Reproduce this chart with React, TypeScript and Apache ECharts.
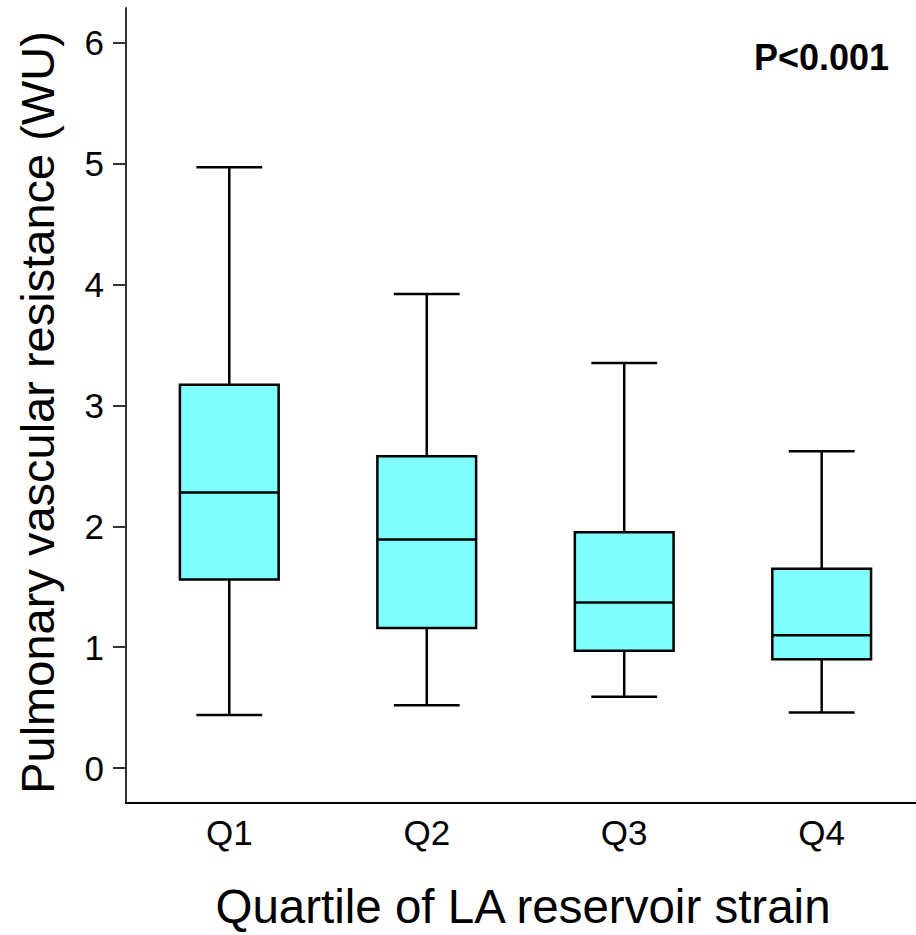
import React, { useEffect, useRef } from "react";
import * as echarts from "echarts";

const categories = ["Q1", "Q2", "Q3", "Q4"];
const lowWhisker = [0.44, 0.52, 0.59, 0.46];
const lowerQuartile = [1.56, 1.16, 0.97, 0.9];
const median = [2.28, 1.89, 1.37, 1.1];
const upperQuartile = [3.17, 2.58, 1.95, 1.65];
const highWhisker = [4.97, 3.92, 3.35, 2.62];
const yTicks = [0, 1, 2, 3, 4, 5, 6];
const xTicks = [1, 2, 3, 4];

const FONT = "'Liberation Sans', Arial, Helvetica, sans-serif";

export default function App() {
  const ref = useRef<HTMLDivElement>(null);

  useEffect(() => {
    if (!ref.current) return;
    const chart = echarts.init(ref.current, null, { renderer: "svg" });

    const data = categories.map((_, i) => [
      i + 1,
      lowWhisker[i],
      lowerQuartile[i],
      median[i],
      upperQuartile[i],
      highWhisker[i],
    ]);

    const lineStyle = { stroke: "#000", lineWidth: 2.5 };

    chart.setOption({
      animation: false,
      grid: { left: 126, right: 0, top: 8, bottom: 128.3, containLabel: false },
      xAxis: {
        type: "value",
        min: 0.477,
        max: 4.4776,
        name: "Quartile of LA reservoir strain",
        nameLocation: "middle",
        nameGap: 79,
        nameTextStyle: { fontSize: 47.5, fontFamily: FONT, color: "#000", padding: [0, 0, 0, 4] },
        axisLine: { show: true, onZero: false, lineStyle: { color: "#000", width: 2 } },
        axisTick: { show: false },
        splitLine: { show: false },
        axisLabel: {
          customValues: xTicks,
          formatter: (v: number) => categories[Math.round(v) - 1] ?? "",
          fontSize: 35,
          fontFamily: FONT,
          color: "#000",
          margin: 12,
        },
      },
      yAxis: {
        type: "value",
        min: -0.288,
        max: 6.286,
        name: "Pulmonary vascular resistance (WU)",
        nameLocation: "middle",
        nameGap: 65,
        nameTextStyle: { fontSize: 47, fontFamily: FONT, color: "#000", padding: [0, 14, 0, 0] },
        axisLine: { show: true, onZero: false, lineStyle: { color: "#333", width: 2 } },
        axisTick: {
          show: true,
          customValues: yTicks,
          length: 13,
          lineStyle: { color: "#333", width: 2 },
        },
        splitLine: { show: false },
        axisLabel: {
          customValues: yTicks,
          fontSize: 35,
          fontFamily: FONT,
          color: "#000",
          margin: 22,
        },
      },
      graphic: [
        {
          type: "text",
          x: 889,
          y: 57,
          style: {
            text: "P<0.001",
            font: `bold 36px ${FONT}`,
            fill: "#000",
            textAlign: "right",
            textVerticalAlign: "middle",
          },
        },
      ],
      series: [
        {
          type: "custom",
          data,
          renderItem: (params: any, api: any) => {
            const x = api.value(0);
            const pLow = api.coord([x, api.value(1)]);
            const pQ1 = api.coord([x, api.value(2)]);
            const pMed = api.coord([x, api.value(3)]);
            const pQ3 = api.coord([x, api.value(4)]);
            const pHigh = api.coord([x, api.value(5)]);
            const bw = api.size([0.5, 0])[0];
            const cw = (bw * 2) / 3;
            const cx = pMed[0];
            return {
              type: "group",
              children: [
                { type: "line", shape: { x1: cx, y1: pHigh[1], x2: cx, y2: pQ3[1] }, style: lineStyle },
                { type: "line", shape: { x1: cx, y1: pQ1[1], x2: cx, y2: pLow[1] }, style: lineStyle },
                { type: "line", shape: { x1: cx - cw / 2, y1: pHigh[1], x2: cx + cw / 2, y2: pHigh[1] }, style: lineStyle },
                { type: "line", shape: { x1: cx - cw / 2, y1: pLow[1], x2: cx + cw / 2, y2: pLow[1] }, style: lineStyle },
                {
                  type: "rect",
                  shape: { x: cx - bw / 2, y: pQ3[1], width: bw, height: pQ1[1] - pQ3[1] },
                  style: { fill: "#80ffff", stroke: "#000", lineWidth: 2.5 },
                },
                { type: "line", shape: { x1: cx - bw / 2, y1: pMed[1], x2: cx + bw / 2, y2: pMed[1] }, style: lineStyle },
              ],
            };
          },
        },
      ],
    });

    return () => chart.dispose();
  }, []);

  return (
    <div
      ref={ref}
      style={{ position: "absolute", left: 0, top: 0, width: 916, height: 935, background: "#fff" }}
    />
  );
}
